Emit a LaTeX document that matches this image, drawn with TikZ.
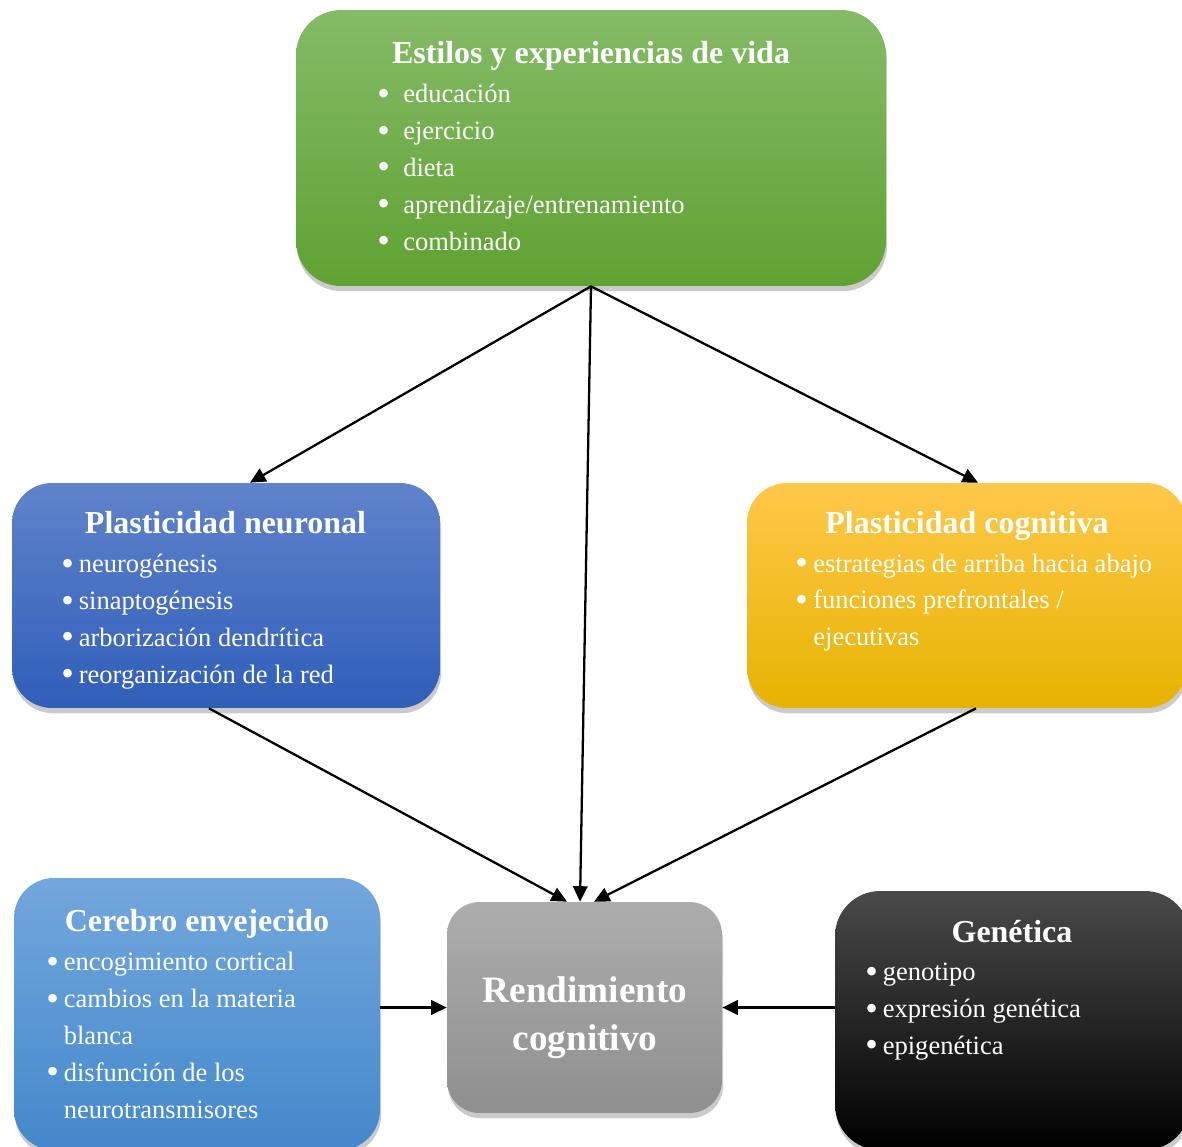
\documentclass[tikz,border=0pt]{standalone}
\usepackage{fontspec}
\usepackage{graphicx}
\setmainfont{Liberation Serif}
\usetikzlibrary{arrows.meta,positioning,shadows}

\definecolor{verdeA}{HTML}{85BB67}
\definecolor{verdeB}{HTML}{5FA232}
\definecolor{azulA}{HTML}{6083CB}
\definecolor{azulB}{HTML}{2F5EB9}
\definecolor{oroA}{HTML}{FFC84A}
\definecolor{oroM}{HTML}{FFC000}
\definecolor{oroB}{HTML}{E6B300}
\definecolor{celesteA}{HTML}{73A7DC}
\definecolor{celesteB}{HTML}{4388CB}
\definecolor{grisA}{HTML}{ADADAD}
\definecolor{grisB}{HTML}{8F8F8F}
\definecolor{negroA}{HTML}{4A4A4A}

% vineta mas grande, como la del original
\newcommand{\punto}{\raisebox{-0.1em}{\scalebox{1.35}{\textbullet}}}

\begin{document}
\begin{tikzpicture}[
x=0.02cm, y=-0.02cm,
caja/.style={rounded corners=0.8cm, inner sep=0pt, drop shadow={shadow xshift=0.6pt, shadow yshift=-3pt, opacity=0.35, fill=black!60}},
titulo/.style={anchor=base, inner sep=0pt, text=white, font=\fontsize{18.2}{22}\selectfont\bfseries},
lista/.style={anchor=base west, inner sep=0pt, text=white, font=\fontsize{15.1}{21}\selectfont},
flecha/.style={-{Triangle[length=3.1mm,width=2.9mm]}, line width=1.3pt}
]
\useasboundingbox (0,0) rectangle (1182,1146);
\clip (0,0) rectangle (1182,1146);

% cajas
\node[caja, minimum width=11.8cm, minimum height=5.52cm, rounded corners=0.9cm, top color=verdeA, bottom color=verdeB] (estilos) at (591,148) {};
\node[caja, minimum width=8.56cm, minimum height=4.5cm, top color=azulA, bottom color=azulB] (neuronal) at (226,595.5) {};
\node[caja, minimum width=8.78cm, minimum height=4.5cm, top color=oroA, middle color=oroM, bottom color=oroB] (cognitiva) at (966.5,595.5) {};
\node[caja, minimum width=7.32cm, minimum height=5.44cm, top color=celesteA, bottom color=celesteB] (cerebro) at (197,1014) {};
\node[caja, minimum width=5.5cm, minimum height=4.22cm, rounded corners=0.65cm, top color=grisA, bottom color=grisB] (rend) at (584.5,1007.5) {};
\node[caja, minimum width=7.1cm, minimum height=5.18cm, rounded corners=0.9cm, top color=negroA, middle color=black, bottom color=black] (genetica) at (1012.5,1020.5) {};

% textos
\node[titulo] (estilostit) at (591,63) {Estilos y experiencias de vida};
\node[lista] (estiloslista) at (377,102.5) {\begin{tabular}[t]{@{}l@{\hspace{7.6pt}}l@{}}
\punto & educación\\
\punto & ejercicio\\
\punto & dieta\\
\punto & aprendizaje/entrenamiento\\
\punto & combinado
\end{tabular}};

\node[titulo] (neuronaltit) at (225.5,533) {Plasticidad neuronal};
\node[lista] (neuronallista) at (61,572.5) {\begin{tabular}[t]{@{}l@{\hspace{2.8pt}}l@{}}
\punto & neurogénesis\\
\punto & sinaptogénesis\\
\punto & arborización dendrítica\\
\punto & reorganización de la red
\end{tabular}};

\node[titulo] (cognitivatit) at (967,533) {Plasticidad cognitiva};
\node[lista] (cognitivalista) at (795,572) {\begin{tabular}[t]{@{}l@{\hspace{3.1pt}}l@{}}
\punto & estrategias de arriba hacia abajo\\
\punto & funciones prefrontales /\\
 & ejecutivas
\end{tabular}};

\node[titulo] (cerebrotit) at (197,931) {Cerebro envejecido};
\node[lista] (cerebrolista) at (46,970.5) {\begin{tabular}[t]{@{}l@{\hspace{2.8pt}}l@{}}
\punto & encogimiento cortical\\
\punto & cambios en la materia\\
 & blanca\\
\punto & disfunción de los\\
 & neurotransmisores
\end{tabular}};

\node[titulo] (geneticatit) at (1012,942) {Genética};
\node[lista] (geneticalista) at (865,980.5) {\begin{tabular}[t]{@{}l@{\hspace{2.8pt}}l@{}}
\punto & genotipo\\
\punto & expresión genética\\
\punto & epigenética
\end{tabular}};

\node[text=white, align=center, font=\fontsize{21.2}{27.5}\selectfont\bfseries] (rendtxt) at (585,1018) {Rendimiento\\cognitivo};

% flechas
\draw[flecha] (estilos.south) -- ([xshift=0.48cm]neuronal.north);
\draw[flecha] (estilos.south) -- ([xshift=-0.09cm]rend.north);
\draw[flecha] (estilos.south) -- ([xshift=0.23cm]cognitiva.north);
\draw[flecha] ([xshift=-0.34cm]neuronal.south) -- ([xshift=-0.35cm]rend.north);
\draw[flecha] ([xshift=0.19cm]cognitiva.south) -- ([xshift=0.19cm]rend.north);
\draw[flecha] (cerebro.east |- rend.west) -- (rend.west);
\draw[flecha] (genetica.west |- rend.east) -- (rend.east);
\end{tikzpicture}
\end{document}
